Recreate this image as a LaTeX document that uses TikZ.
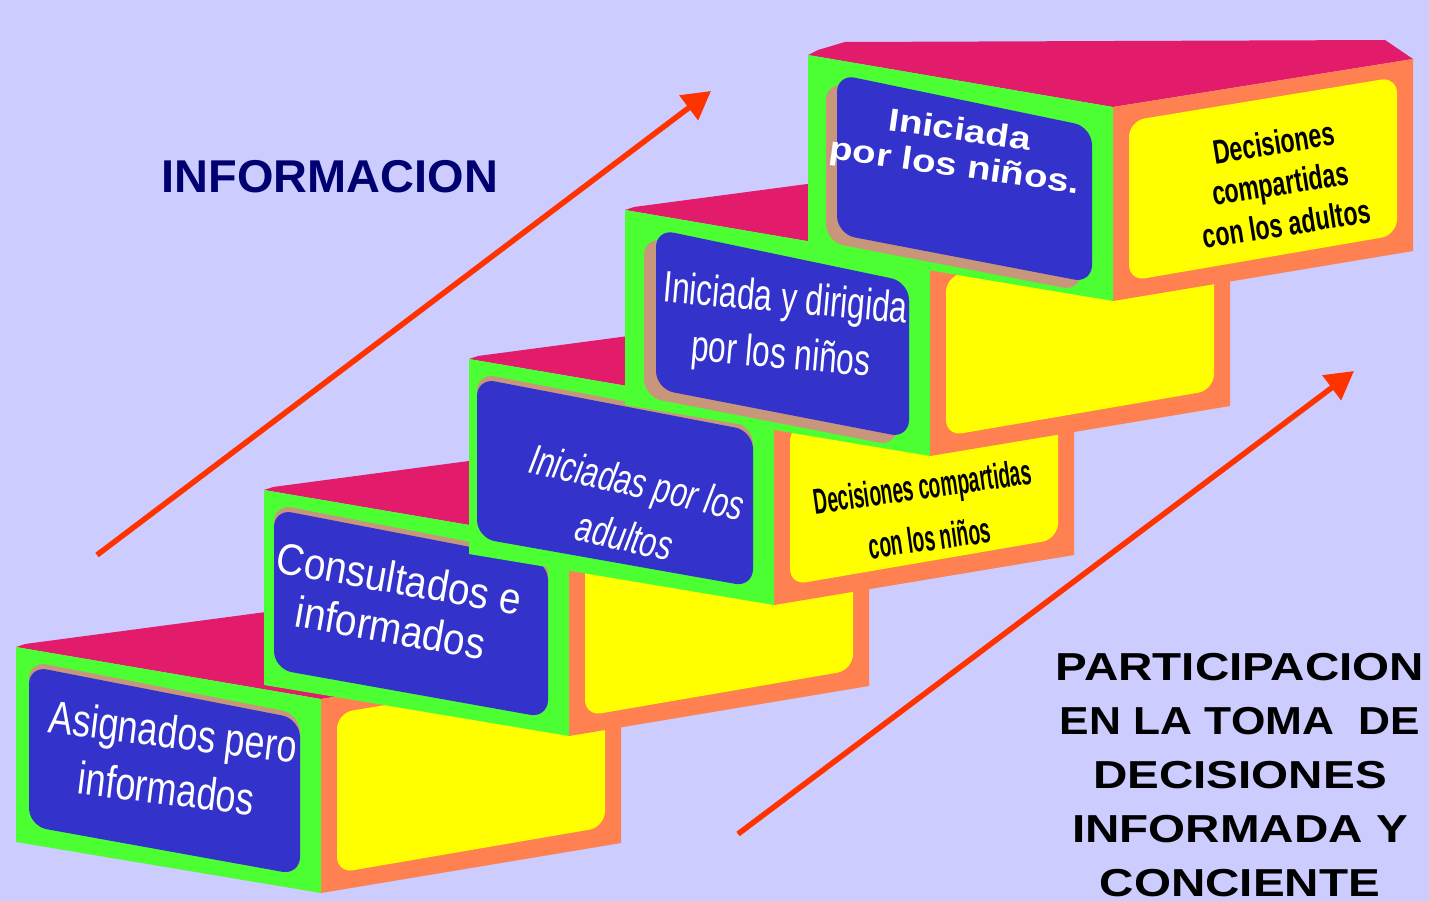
\documentclass[tikz,border=0pt]{standalone}
\usepackage{fontspec}
\setmainfont{Liberation Sans}
\usetikzlibrary{calc,arrows.meta}
\newfontfamily\fontTitle[FakeStretch=1.02]{Liberation Sans}
\newfontfamily\fontWide[FakeStretch=1.22]{Liberation Sans}
\newfontfamily\fontNarrowA[FakeStretch=0.78]{Liberation Sans}
\newfontfamily\fontNarrowB[FakeStretch=0.88]{Liberation Sans}
\newfontfamily\fontNarrowC[FakeStretch=0.72]{Liberation Sans}
\newfontfamily\fontWideB[FakeStretch=1.2]{Liberation Sans}
\newfontfamily\fontCondA[FakeStretch=0.68]{Liberation Sans}
\newfontfamily\fontCondB[FakeStretch=0.53]{Liberation Sans}
\definecolor{bgc}{HTML}{CCCCFF}
\definecolor{crimsonc}{HTML}{E21B6A}
\definecolor{greenc}{HTML}{4CFF33}
\definecolor{bluec}{HTML}{3333CC}
\definecolor{tanc}{HTML}{C8967A}
\definecolor{orangec}{HTML}{FF8050}
\definecolor{yellowc}{HTML}{FFFF00}
\definecolor{arrowc}{HTML}{FF3300}
\definecolor{navyc}{HTML}{000070}
% #1 prefix, #2 top-left corner, #3 tan shadow shift, #4 blue left inset, #5 top face back edge
\newcommand\stairbox[5]{%
  \coordinate (#1tl) at (#2);
  \coordinate (#1tr) at ($(#1tl)+(305,52)$);
  \coordinate (#1bl) at ($(#1tl)+(0,195)$);
  \coordinate (#1br) at ($(#1tl)+(305,246)$);
  \coordinate (#1rt) at ($(#1tr)+(300,-48)$);
  \coordinate (#1rb) at ($(#1br)+(300,-50)$);
  \fill[crimsonc] (#1tl) #5 -- (#1rt) -- (#1tr) -- cycle;
  \fill[orangec] (#1tr) -- (#1rt) -- (#1rb) -- (#1br) -- cycle;
  \fill[yellowc, rounded corners=16pt] ($(#1tr)+(16,14)$) -- ($(#1rt)+(-16,18)$)
     -- ($(#1rb)+(-16,-16)$) -- ($(#1br)+(16,-20)$) -- cycle;
  \fill[greenc] (#1tl) -- (#1tr) -- (#1br) -- (#1bl) -- cycle;
  \fill[tanc, rounded corners=18pt] ($(#1tl)+(#4,19)+(#3)$) -- ($(#1tr)+(-21,20)+(#3)$)
     -- ($(#1br)+(-21,-18)+(#3)$) -- ($(#1bl)+(#4,-16)+(#3)$) -- cycle;
  \fill[bluec, rounded corners=18pt] ($(#1tl)+(#4,19)$) -- ($(#1tr)+(-21,20)$)
     -- ($(#1br)+(-21,-18)$) -- ($(#1bl)+(#4,-16)$) -- cycle;
}
\begin{document}
\begin{tikzpicture}[x=1pt,y=-1pt,
  paneltxt/.style={text=white, inner sep=0pt, align=center},
  yellowtxt/.style={text=black, inner sep=0pt, align=center},
  bigarrow/.style={draw=arrowc, line width=5.5pt, -{Triangle[length=28pt,width=30pt,fill=arrowc]}}]
\fill[bgc] (0,0) rectangle (1429,901);
\useasboundingbox (0,0) rectangle (1429,901);

% arrows (behind the stairs)
\coordinate (a1s) at (97,555);
\coordinate (a1e) at (711,91);
\coordinate (a2s) at (738,834);
\coordinate (a2e) at (1354,371);
\draw[bigarrow] (a1s) -- (a1e);
\draw[bigarrow] (a2s) -- (a2e);

% stairs, bottom to top
\stairbox{s1}{16,647}{0,-5}{13}{-- ++(9,-3) -- ++(241,-32) -- ++(327,-7)}
\stairbox{s2}{264,490}{0,-5}{10}{-- ++(9,-3) -- ++(241,-32) -- ++(327,-7)}
\stairbox{s3}{469,359}{0,-5}{8}{-- ++(9,-3) -- ++(241,-32) -- ++(327,-7)}
\stairbox{s4}{625,210}{-12,8}{31}{-- ++(9,-3) -- ++(241,-32) -- ++(327,-7)}
\stairbox{s5}{808,55}{-11,8}{29}{-- ++(10,-5) -- ++(27,-8) -- ++(540,-2)}

% panel texts
\node[paneltxt, font=\fontNarrowA\fontsize{46}{57}\selectfont, rotate=-7] (t1) at (170,760) {Asignados pero\\informados};
\node[paneltxt, font=\fontNarrowB\fontsize{44}{50}\selectfont, rotate=-10] (t2) at (395,603) {Consultados e\\informados};
\node[paneltxt, font=\fontNarrowC\itshape\fontsize{42}{55}\selectfont, rotate=-13] (t3) at (631,509) {Iniciadas por los\\adultos};
\node[paneltxt, font=\fontNarrowC\fontsize{44}{56}\selectfont, rotate=-5] (t4) at (783,329) {Iniciada y dirigida\\por los niños};
\node[paneltxt, font=\fontWideB\bfseries\fontsize{32}{36}\selectfont, rotate=-8] (t5) at (957,150) {Iniciada\\por los niños.};
\node[yellowtxt, font=\fontCondA\bfseries\fontsize{34}{41}\selectfont, rotate=9] (r5) at (1280,183) {Decisiones\\compartidas\\con los adultos};
\node[yellowtxt, font=\fontCondB\bfseries\fontsize{36}{52}\selectfont, rotate=8] (r3) at (926,512) {Decisiones compartidas\\con los niños};

% titles
\node[font=\fontTitle\bfseries\fontsize{46}{50}\selectfont, text=navyc, inner sep=0pt] (info) at (330,177) {INFORMACION};
\node[font=\fontWide\bfseries\fontsize{39}{54}\selectfont, align=center, inner sep=0pt, anchor=north] (part) at (1240,653)
  {PARTICIPACION\\\scalebox{0.93}[1]{EN LA TOMA\ \ DE}\\DECISIONES\\INFORMADA Y\\CONCIENTE};
\end{tikzpicture}
\end{document}
